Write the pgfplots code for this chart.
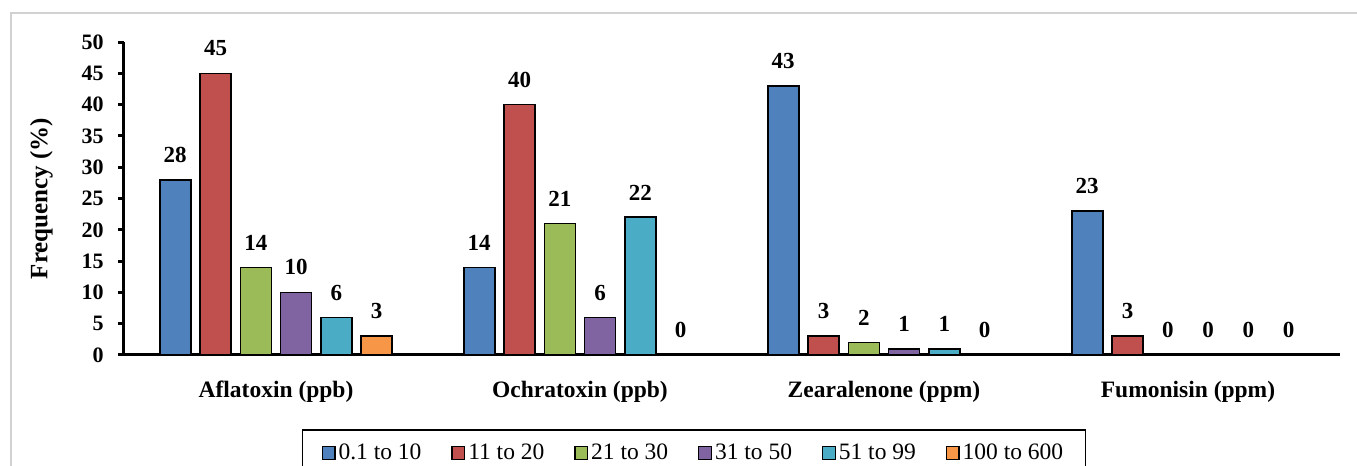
\documentclass[border=0pt]{standalone}
\usepackage{fontspec}
\setmainfont{Liberation Serif}
\usepackage{pgfplots}
\pgfplotsset{compat=1.18}
\definecolor{c1}{HTML}{4F81BD}
\definecolor{c2}{HTML}{C0504D}
\definecolor{c3}{HTML}{9BBB59}
\definecolor{c4}{HTML}{8064A2}
\definecolor{c5}{HTML}{4BACC6}
\definecolor{c6}{HTML}{F79646}
\begin{document}
\begin{tikzpicture}
\path[use as bounding box] (0pt,0pt) rectangle (678.5pt,233pt);
\draw[line width=0.6pt, black!18] (5.5pt,-20pt) rectangle (700pt,226.5pt);
\begin{axis}[
  at={(62pt,55.5pt)}, anchor=south west,
  width=608pt, height=156.5pt, scale only axis,
  ybar=4.65pt, bar width=15.5pt,
  xmin=-0.5, xmax=3.5, ymin=0, ymax=50,
  xtick={0,1,2,3},
  xticklabels={Aflatoxin (ppb), Ochratoxin (ppb), Zearalenone (ppm), Fumonisin (ppm)},
  ytick={0,5,...,50},
  axis x line*=bottom, axis y line*=left,
  axis line style={line width=1.5pt, black},
  x axis line style={-}, y axis line style={-},
  xtick style={draw=none},
  ytick style={line width=1.5pt, black},
  tick align=outside, major tick length=3pt,
  /pgf/number format/assume math mode=true,
  yticklabel style={font=\bfseries\fontsize{11}{12}\selectfont, anchor=east, inner sep=0pt, xshift=-7pt},
  xticklabel style={font=\bfseries\fontsize{11.75}{13}\selectfont, anchor=north, inner sep=0pt, yshift=-10pt},
  ylabel={Frequency (\%)},
  ylabel style={font=\bfseries\fontsize{12.5}{14}\selectfont, at={(axis description cs:-0.0679,0.5)}, anchor=center},
  nodes near coords,
  nodes near coords style={font=\bfseries\fontsize{11.5}{13}\selectfont, anchor=south, inner sep=0pt, yshift=8.2pt, black},
  every axis plot/.append style={draw=black, line width=0.8pt},
  legend image code/.code={\draw[#1, line width=0.6pt] (0pt,-3.2pt) rectangle (6.3pt,3.2pt);},
  legend columns=6,
  legend style={at={(0.46875,-0.2374)}, anchor=north, draw=black, line width=0.6pt,
    font=\fontsize{11.75}{14}\selectfont, inner xsep=9.75pt, inner ysep=5pt,
    /tikz/every even column/.append style={column sep=13.5pt},
    nodes={inner xsep=1.5pt}},
  legend cell align=left,
  clip=false,
]
\addplot[fill=c1] coordinates {(0,28) (1,14) (2,43) (3,23)};
\addplot[fill=c2] coordinates {(0,45) (1,40) (2,3) (3,3)};
\addplot[fill=c3] coordinates {(0,14) (1,21) (2,2) (3,0)};
\addplot[fill=c4] coordinates {(0,10) (1,6) (2,1) (3,0)};
\addplot[fill=c5] coordinates {(0,6) (1,22) (2,1) (3,0)};
\addplot[fill=c6] coordinates {(0,3) (1,0) (2,0) (3,0)};
\legend{0.1 to 10, 11 to 20, 21 to 30, 31 to 50, 51 to 99, 100 to 600}
\end{axis}
\end{tikzpicture}
\end{document}
